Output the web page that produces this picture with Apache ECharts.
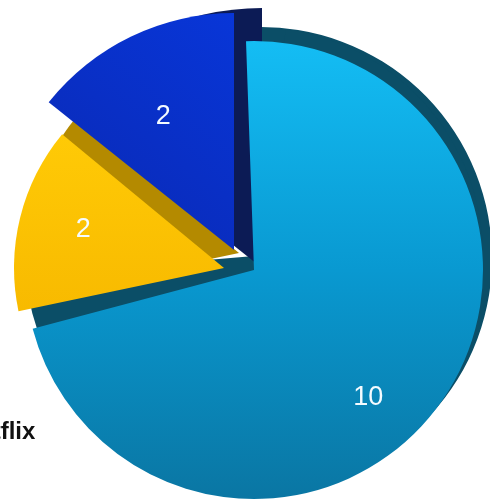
<!DOCTYPE html>
<html>
<head>
<meta charset="utf-8">
<script src="https://cdn.jsdelivr.net/npm/echarts@6/dist/echarts.min.js"></script>
<style>
html,body{margin:0;padding:0;background:#ffffff;}
#chart{width:490px;height:500px;}
</style>
</head>
<body>
<div id="chart"></div>
<script>
// ---- data ----
const categories = ['Slice A', 'Slice B', 'Slice C'];
const values = [10, 2, 2];
const legendText = 'Netflix';

// ---- styling / layout (no data) ----
const G = echarts.graphic.LinearGradient;
const faceColors = [
  new G(0, 0, 0, 1, [{offset: 0, color: '#14bdf4'}, {offset: 0.5, color: '#0999d1'}, {offset: 1, color: '#0a76a3'}]),
  new G(0, 0, 0, 1, [{offset: 0, color: '#ffca06'}, {offset: 1, color: '#f8ba00'}]),
  new G(1, 0, 0, 1, [{offset: 0, color: '#0836d8'}, {offset: 1, color: '#0a28b2'}])
];
// front faces
const faces = [
  {center: [254, 270], r: 229, start: 92, lab: [20, 58]},
  {center: [224, 268], r: 210, start: 89, lab: [-36, -13]},
  {center: [234, 250], r: 237, start: 90, lab: [-18, -24]}
];
// 3D side faces (drawn behind, same slice shapes shifted)
const sides = [
  {slice: 0, color: '#0b4e67', center: [261, 258], r: 231, start: 92},
  {slice: 0, color: '#0b4e67', center: [254, 256], r: 229, start: 82},
  {slice: 1, color: '#b48a00', center: [239, 253], r: 212, start: 89},
  {slice: 2, color: '#0c1b55', center: [262, 268], r: 260, start: 90}
];
const labelFont = '"Liberation Sans", Helvetica, Arial, sans-serif';

function pieLayer(i, g, color, z, withLabel) {
  return {
    type: 'pie',
    z: z,
    center: g.center,
    radius: g.r,
    startAngle: g.start,
    clockwise: true,
    silent: true,
    animation: false,
    avoidLabelOverlap: false,
    emphasis: {disabled: true},
    labelLine: {show: false},
    labelLayout: withLabel ? {dx: g.lab[0], dy: g.lab[1]} : undefined,
    label: {
      position: 'inside',
      formatter: '{c}',
      color: '#f4fbff',
      fontSize: 27,
      fontFamily: labelFont,
      fontWeight: 'normal'
    },
    data: values.map((v, j) => ({
      name: categories[j],
      value: v,
      itemStyle: {color: j === i ? color : 'rgba(0,0,0,0)', borderWidth: 0, borderColor: 'rgba(0,0,0,0)'},
      label: {show: withLabel && j === i}
    }))
  };
}

const series = [];
sides.forEach((s, k) => series.push(pieLayer(s.slice, s, s.color, 1 + k, false)));
faces.forEach((f, i) => series.push(pieLayer(i, f, faceColors[i], 10 + i, true)));

const chart = echarts.init(document.getElementById('chart'), null, {renderer: 'canvas'});
chart.setOption({
  backgroundColor: '#ffffff',
  animation: false,
  series: series,
  graphic: [{
    type: 'text',
    x: -38,
    y: 432,
    z: 100,
    style: {
      text: legendText,
      font: 'bold 24px "Liberation Sans", Helvetica, Arial, sans-serif',
      fill: '#111111',
      verticalAlign: 'middle'
    }
  }]
});
</script>
</body>
</html>
